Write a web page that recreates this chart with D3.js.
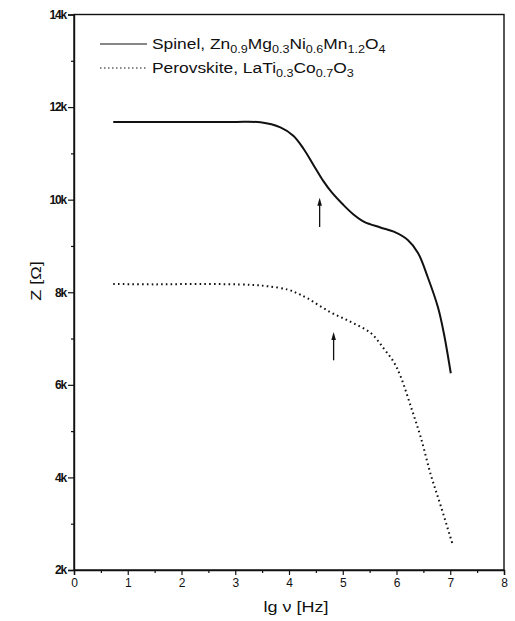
<!DOCTYPE html>
<html>
<head>
<meta charset="utf-8">
<script src="https://cdn.jsdelivr.net/npm/d3@7"></script>
<style>
  html, body { margin: 0; padding: 0; background: #fff; }
  svg { display: block; }
  text { font-family: "Liberation Sans", Arial, sans-serif; fill: #111; }
</style>
</head>
<body>
<svg id="chart" width="515" height="621"></svg>
<script>
// Impedance modulus Z vs. log frequency for two ceramic samples
const spinelLg = [0.73, 1.5, 2.3, 3.0, 3.47, 3.84, 4.08, 4.27, 4.46, 4.64, 4.80, 5.00, 5.20, 5.40, 5.70, 5.95, 6.21, 6.40, 6.58, 6.77, 6.88, 7.01];
const spinelZ  = [11.68, 11.68, 11.68, 11.68, 11.67, 11.56, 11.38, 11.10, 10.74, 10.40, 10.15, 9.90, 9.68, 9.52, 9.40, 9.31, 9.13, 8.85, 8.33, 7.68, 7.12, 6.25];

const perovLg = [0.73, 1.5, 2.35, 3.28, 3.60, 3.97, 4.15, 4.34, 4.77, 5.15, 5.52, 5.76, 5.95, 6.08, 6.27, 6.45, 6.64, 6.83, 7.05];
const perovZ  = [8.18, 8.17, 8.18, 8.16, 8.13, 8.06, 7.98, 7.87, 7.57, 7.36, 7.12, 6.79, 6.49, 6.17, 5.52, 4.87, 4.05, 3.36, 2.53];

// arrows marking the relaxation features: lg nu, Z at tail, Z at head
const arrowsLg   = [4.57, 4.83];
const arrowsFrom = [9.41, 6.53];
const arrowsTo   = [10.04, 7.14];

const xTicks = [0, 1, 2, 3, 4, 5, 6, 7, 8];
const yTicks = [2, 4, 6, 8, 10, 12, 14];
const yTickLabels = ["2k", "4k", "6k", "8k", "10k", "12k", "14k"];

const legendNames = ["Spinel, ", "Perovskite, "];
// formula pieces: [text, isSubscript]
const legendFormulas = [
  [["Zn", false], ["0.9", true], ["Mg", false], ["0.3", true], ["Ni", false], ["0.6", true], ["Mn", false], ["1.2", true], ["O", false], ["4", true]],
  [["LaTi", false], ["0.3", true], ["Co", false], ["0.7", true], ["O", false], ["3", true]]
];

const svg = d3.select("#chart");
const plotL = 74, plotR = 504, plotT = 14.5, plotB = 570;
const stretch = 1.2;   // wide-set lettering

const x = d3.scaleLinear().domain([0, 8]).range([plotL, plotR]);
const y = d3.scaleLinear().domain([2, 14]).range([plotB, plotT]);

// frame
svg.append("rect")
  .attr("x", plotL).attr("y", plotT)
  .attr("width", plotR - plotL).attr("height", plotB - plotT)
  .attr("fill", "none").attr("stroke", "#111").attr("stroke-width", 1.4);

// bottom axis
const xAxis = svg.append("g").attr("transform", `translate(0,${plotB})`)
  .call(d3.axisBottom(x).tickValues(xTicks).tickFormat(d3.format("d")).tickSize(5).tickPadding(3));
svg.append("g").attr("transform", `translate(0,${plotB})`)
  .call(d3.axisBottom(x).tickValues(d3.range(0.5, 8, 1)).tickFormat("").tickSize(3))
  .call(g => g.select(".domain").remove());

// left axis
const yAxis = svg.append("g").attr("transform", `translate(${plotL},0)`)
  .call(d3.axisLeft(y).tickValues(yTicks).tickFormat((d, i) => yTickLabels[i]).tickSize(6).tickPadding(2));
svg.append("g").attr("transform", `translate(${plotL},0)`)
  .call(d3.axisLeft(y).tickValues(d3.range(3, 14, 2)).tickFormat("").tickSize(3))
  .call(g => g.select(".domain").remove());

svg.selectAll(".domain").attr("stroke", "#111").attr("stroke-width", 1.4);
svg.selectAll(".tick line").attr("stroke", "#111").attr("stroke-width", 1.2);
xAxis.selectAll("text").attr("font-size", 12).attr("fill", "#111")
  .attr("font-family", "Liberation Sans, Arial, sans-serif");
yAxis.selectAll("text").attr("font-size", 12).attr("fill", "#111").attr("font-weight", "bold")
  .attr("font-family", "Liberation Sans, Arial, sans-serif").attr("letter-spacing", -1.2);

// axis titles
svg.append("text")
  .attr("transform", `translate(296,612) scale(${stretch},1)`)
  .attr("text-anchor", "middle").attr("font-size", 15)
  .text("lg ν [Hz]");
svg.append("text")
  .attr("transform", `translate(41,281) rotate(-90) scale(${stretch},1)`)
  .attr("text-anchor", "middle").attr("font-size", 15)
  .text("Z [Ω]");

// curves
const line = d3.line().curve(d3.curveCatmullRom.alpha(0.5))
  .x(d => x(d[0])).y(d => y(d[1]));

svg.append("path")
  .datum(d3.zip(spinelLg, spinelZ))
  .attr("d", line)
  .attr("fill", "none").attr("stroke", "#111").attr("stroke-width", 2);

svg.append("path")
  .datum(d3.zip(perovLg, perovZ))
  .attr("d", line)
  .attr("fill", "none").attr("stroke", "#111").attr("stroke-width", 2)
  .attr("stroke-dasharray", "1.6 3.2");

// arrows
const arrowG = svg.append("g");
arrowsLg.forEach((lg, i) => {
  const ax = x(lg), y0 = y(arrowsFrom[i]), y1 = y(arrowsTo[i]);
  arrowG.append("line")
    .attr("x1", ax).attr("x2", ax).attr("y1", y0).attr("y2", y1 + 5)
    .attr("stroke", "#111").attr("stroke-width", 1.3);
  arrowG.append("path")
    .attr("d", `M${ax},${y1} L${ax - 2.3},${y1 + 8} L${ax + 2.3},${y1 + 8} Z`)
    .attr("fill", "#111");
});

// legend
const legendY = [44, 68];
legendNames.forEach((name, i) => {
  const ly = legendY[i];
  svg.append("line")
    .attr("x1", 100).attr("x2", 147).attr("y1", ly).attr("y2", ly)
    .attr("stroke", "#111").attr("stroke-width", 1.2)
    .attr("stroke-dasharray", i === 0 ? null : "1.5 2.5");
  const t = svg.append("text")
    .attr("transform", `translate(152,${ly + 5}) scale(${stretch},1)`)
    .attr("font-size", 14.5);
  t.append("tspan").text(name);
  let shift = 0;
  legendFormulas[i].forEach(([s, sub]) => {
    const target = sub ? 4 : 0;
    t.append("tspan")
      .attr("font-size", sub ? 10.5 : 14.5)
      .attr("dy", target - shift)
      .text(s);
    shift = target;
  });
});
</script>
</body>
</html>
